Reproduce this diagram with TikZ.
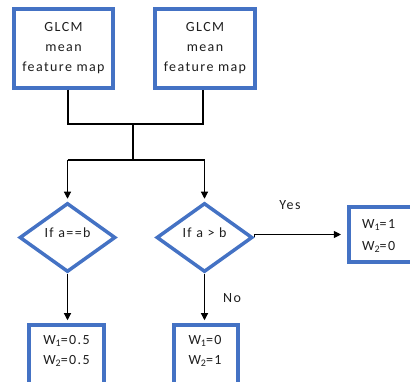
\documentclass[tikz,border=0pt]{standalone}
\usepackage{fontspec}
\setmainfont{Carlito}[LetterSpace=10]
\usetikzlibrary{arrows.meta,shapes.geometric}
\definecolor{boxblue}{RGB}{68,114,196}
\definecolor{inkgray}{RGB}{30,30,30}
\newcommand\sbs[1]{\raisebox{-0.4ex}{\fontsize{10}{10}\selectfont #1}}
\begin{document}
\begin{tikzpicture}[x=1pt,y=-1pt,
  box/.style={draw=boxblue, line width=3.5pt, fill=white, inner sep=0pt},
  txt/.style={font=\fontsize{14}{20}\selectfont, text=inkgray, inner sep=0pt},
  dia/.style={diamond, draw=boxblue, line width=3.5pt, fill=white, inner sep=0pt,
    minimum width=96pt, minimum height=69pt, text height=9pt, text depth=9pt,
    font=\fontsize{14}{16}\selectfont, text=inkgray},
  conn/.style={line width=1.1pt, black},
  arr/.style={conn, -{Triangle[length=7pt,width=7pt]}},
  lbl/.style={font=\fontsize{14}{16}\selectfont, text=inkgray, inner sep=0pt}]
\useasboundingbox (0,0) rectangle (410,382);
% top boxes
\node[box, txt, align=center, minimum width=99pt, minimum height=79pt] (b1) at (63.5,48.5) {GLCM\\mean\\feature map};
\node[box, txt, align=center, minimum width=100pt, minimum height=79pt] (b2) at (205,48.5) {GLCM\\mean\\feature map};
% junction coordinates
\coordinate (m1) at (68,124);
\coordinate (m2) at (203,124);
\coordinate (j) at (133,124);
\coordinate (s) at (133,160);
% diamonds
\node[dia] (d1) at (67.5,237.5) {If a==b};
\node[dia] (d2) at (204.5,237.5) {If a > b};
% result boxes
\node[box, minimum width=76pt, minimum height=55pt] (b3) at (387,234.5) {};
\node[txt, align=left, anchor=west] (t3) at (362,236) {W\sbs{1}=1\\[2pt]W\sbs{2}=0};
\node[box, minimum width=75pt, minimum height=65pt] (b4) at (66.5,357.5) {};
\node[txt, align=left] (t4) at (66.5,351) {W\sbs{1}=0.5\\W\sbs{2}=0.5};
\node[box, minimum width=64pt, minimum height=65pt] (b5) at (206,357.5) {};
\node[txt, align=left] (t5) at (205,351) {W\sbs{1}=0\\W\sbs{2}=1};
% labels
\node[lbl] (yes) at (290,205) {Yes};
\node[lbl] (no) at (232,298) {No};
% connectors
\draw[conn] (b1.south -| m1) -- (m1) -- (m2) -- (b2.south -| m2);
\draw[conn] (j) -- (s);
\draw[conn] (d1.north |- s) -- (d2.north |- s);
\draw[arr, shorten >=2.5pt] (d1.north |- s) -- (d1.north);
\draw[arr, shorten >=2.5pt] (d2.north |- s) -- (d2.north);
\draw[arr, shorten >=6.3pt] (d2.east) -- (d2.east |- b3.west) -- (b3.west);
\draw[arr, shorten >=3pt] (d1.south) -- (d1.south |- b4.north);
\draw[arr, shorten >=3pt] (d2.south) -- (d2.south |- b5.north);
\end{tikzpicture}
\end{document}
